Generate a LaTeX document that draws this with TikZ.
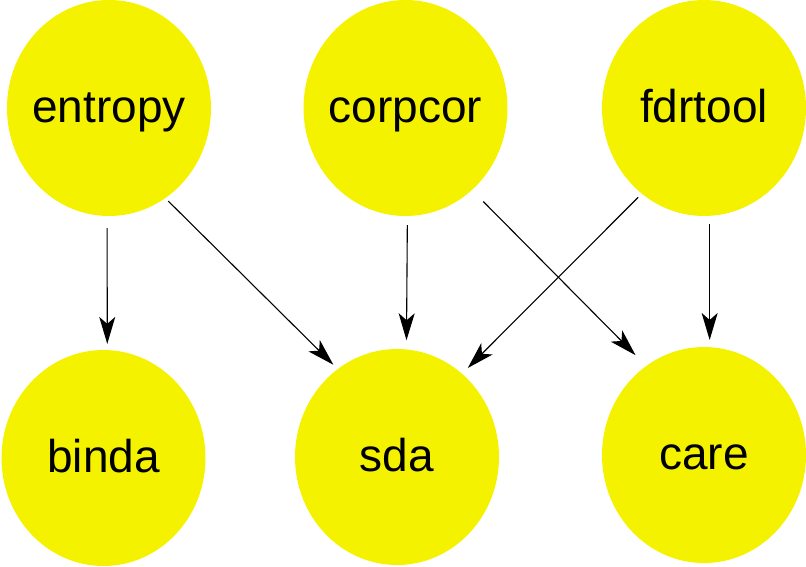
\documentclass[tikz,border=0pt]{standalone}
\usepackage{fontspec}
\setmainfont{Liberation Sans}
\usetikzlibrary{arrows.meta}
\usetikzlibrary{shapes}

\definecolor{pkgyellow}{RGB}{245,242,0}

\tikzset{
  pkg/.style={ellipse, fill=pkgyellow, inner sep=0pt,
    minimum width=204pt, minimum height=216pt,
    text height=29pt, text depth=0pt,
    font=\fontsize{46}{55}\selectfont},
  dep/.style={-{Stealth[length=27pt,width=16pt,inset=7pt]}, line width=1.1pt, black}
}

\begin{document}
\begin{tikzpicture}[x=1pt,y=-1pt]
\useasboundingbox (0,0) rectangle (806,566);
%
\node[pkg] (entropy) at (109,108) {\makebox[0pt]{entropy}};
\node[pkg] (corpcor) at (405.5,108) {\makebox[0pt]{corpcor}};
\node[pkg] (fdrtool) at (704,108) {\makebox[0pt]{fdrtool}};
\node[pkg] (binda) at (103.5,458) {\makebox[0pt]{binda}};
\node[pkg] (sda) at (397,457) {\makebox[0pt]{sda}};
\node[pkg] (care) at (704,455) {\makebox[0pt]{care}};
%
\draw[dep, shorten <=12pt, shorten >=6pt] (entropy.-91) -- (binda.88);
\draw[dep, shorten <=4pt, shorten >=6pt] (entropy.-58) -- (sda.124);
\draw[dep, shorten <=9pt, shorten >=9pt] (corpcor.-89.5) -- (sda.85);
\draw[dep, shorten <=16pt, shorten >=15pt] (corpcor.-51.5) -- (care.123.4);
\draw[dep, shorten <=5pt, shorten >=8pt] (fdrtool.-126) -- (sda.52);
\draw[dep, shorten <=8pt, shorten >=7pt] (fdrtool.-87.2) -- (care.87.2);
%
\end{tikzpicture}
\end{document}
